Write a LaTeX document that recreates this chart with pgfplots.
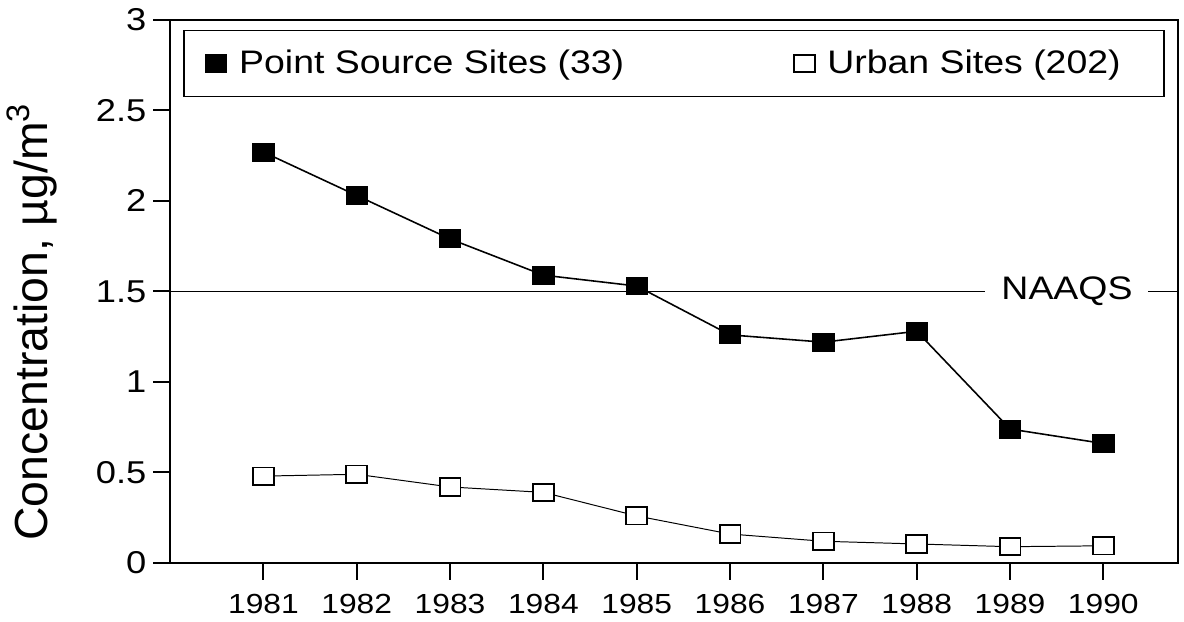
\documentclass[border=0pt]{standalone}
\usepackage{fontspec}
\setmainfont{Liberation Sans}[FakeStretch=1.15]
\newfontfamily\ylabfont{Liberation Sans}
\usepackage{pgfplots}
\usepackage{pgfplotstable}
\pgfplotsset{compat=1.18}
\pgfplotsset{
  bigleg/.style={legend image code/.code={\path[draw=none,fill=none] (0,0) -- (0.7cm,0); \draw[##1,only marks] plot coordinates {(0.36cm,0cm)};}},
}

\pgfplotstableread{
year point urban
1981 2.27 0.48
1982 2.03 0.49
1983 1.79 0.42
1984 1.59 0.39
1985 1.53 0.26
1986 1.26 0.16
1987 1.22 0.12
1988 1.28 0.105
1989 0.74 0.09
1990 0.66 0.095
}\data

\begin{document}
\begin{tikzpicture}
\begin{axis}[
  at={(0,0)}, anchor=south west,
  scale only axis, width=510.8pt, height=275.2pt,
  xmin=1980, xmax=1990.8, ymin=0, ymax=3,
  xtick={1981,1982,...,1990}, ytick={0,0.5,...,3},
  xtick pos=bottom, ytick pos=left, tick align=outside,
  major tick length=8.5pt, tick style={line width=1pt, black},
  axis line style={line width=1.1pt},
  /pgf/number format/assume math mode=true,
  x tick label style={/pgf/number format/1000 sep={}, font=\fontsize{14}{16}\selectfont, yshift=-4pt},
  y tick label style={/pgf/number format/fixed, font=\fontsize{16}{18}\selectfont},
  ylabel={Concentration, µg/m\textsuperscript{3}},
  ylabel style={font=\ylabfont\fontsize{23.5}{26}\selectfont, at={(axis description cs:-0.137,0.444)}, anchor=center},
  legend columns=2,
  legend style={at={(axis description cs:0.013,0.982)}, anchor=north west,
    draw=black, line width=0.9pt, font=\fontsize{16.5}{19}\selectfont,
    inner xsep=6pt, inner ysep=8pt,
    /tikz/column 2/.style={column sep=79pt}},
]
\addplot[black, line width=0.8pt, mark=square*, mark size=4.4pt,
  mark options={solid, fill=black, xscale=1.2}, bigleg]
  table[x=year,y=point]{\data};
\addlegendentry{Point Source Sites (33)}
\addplot[black, line width=0.5pt, mark=square*, mark size=4.4pt,
  mark options={solid, fill=white, line width=0.9pt, xscale=1.2}, bigleg]
  table[x=year,y=urban]{\data};
\addlegendentry{Urban Sites (202)\rule{14pt}{0pt}}
\addplot[black, line width=0.7pt, forget plot] coordinates {(1980,1.5) (1988.73,1.5)};
\addplot[black, line width=0.7pt, forget plot] coordinates {(1990.48,1.5) (1990.8,1.5)};
\node[font=\fontsize{16.5}{19}\selectfont] at (axis cs:1989.61,1.5) {NAAQS};
\end{axis}
\pgfresetboundingbox
\useasboundingbox (-86.2pt,-29.9pt) rectangle (513.8pt,285.3pt);
\end{tikzpicture}
\end{document}
